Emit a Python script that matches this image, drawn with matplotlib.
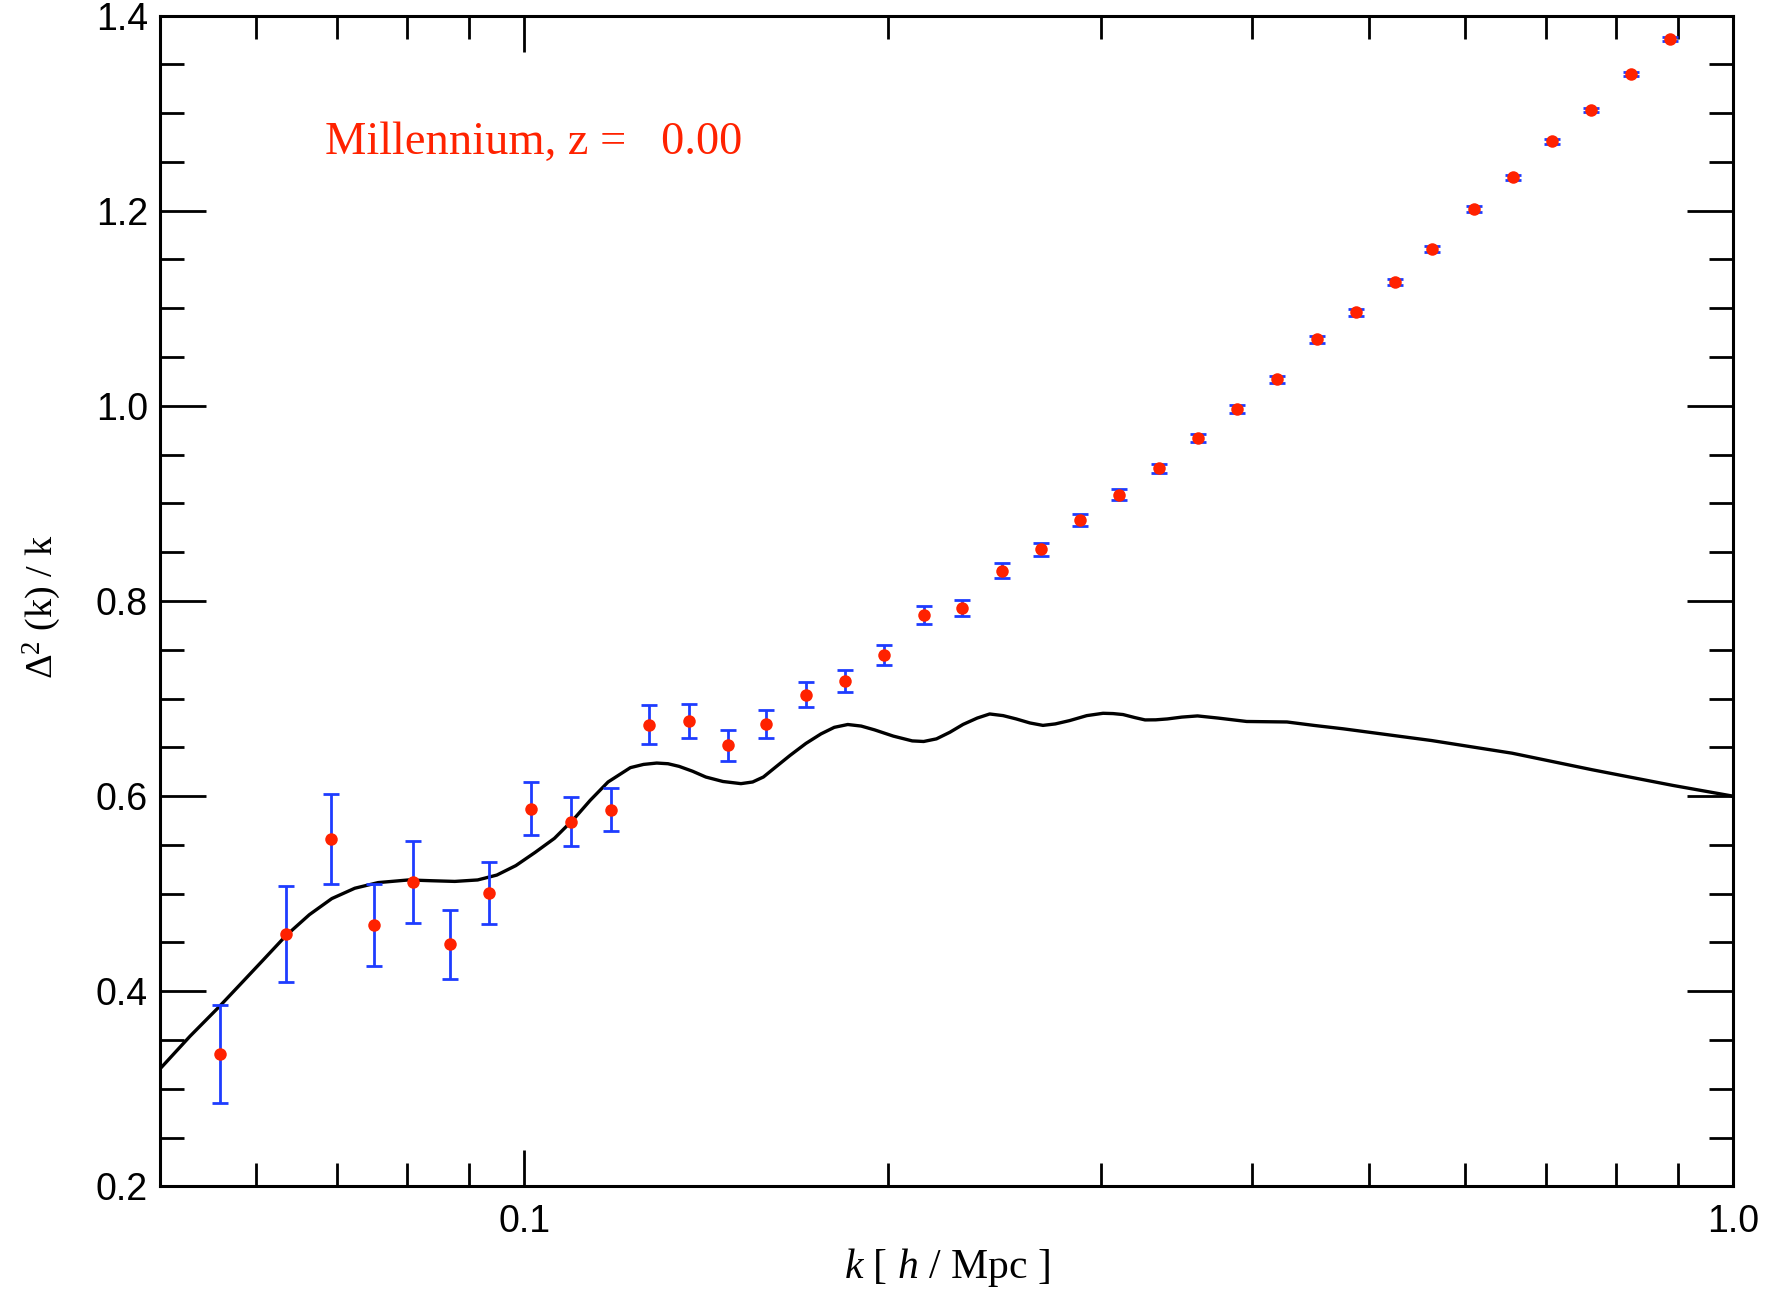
import matplotlib
matplotlib.use("Agg")
import matplotlib.pyplot as plt
from matplotlib.ticker import FixedLocator, FixedFormatter, MultipleLocator, NullFormatter

# simulation power spectrum, Delta^2(k)/k with 1-sigma errors
k_sim = [0.0560, 0.0635, 0.0692, 0.0751, 0.0809, 0.0868, 0.0935, 0.1013,
         0.1094, 0.1179, 0.1268, 0.1368, 0.1474, 0.1586, 0.1709, 0.1841,
         0.1984, 0.2140, 0.2304, 0.2485, 0.2676, 0.2884, 0.3107, 0.3350,
         0.3612, 0.3888, 0.4196, 0.4524, 0.4874, 0.5254, 0.5637, 0.6106,
         0.6580, 0.7090, 0.7636, 0.8228, 0.8867]
delta_sim = [0.336, 0.459, 0.556, 0.468, 0.512, 0.448, 0.501, 0.587,
             0.574, 0.586, 0.673, 0.677, 0.652, 0.674, 0.704, 0.718,
             0.745, 0.786, 0.793, 0.831, 0.853, 0.883, 0.909, 0.936,
             0.967, 0.997, 1.027, 1.068, 1.096, 1.127, 1.161, 1.202,
             1.234, 1.271, 1.303, 1.340, 1.376]
err_sim = [0.050, 0.049, 0.046, 0.042, 0.042, 0.035, 0.032, 0.027,
           0.025, 0.022, 0.020, 0.0175, 0.016, 0.0143, 0.013, 0.0114,
           0.0102, 0.0092, 0.008, 0.0075, 0.0068, 0.006, 0.0053, 0.0048,
           0.0045, 0.0042, 0.004, 0.0038, 0.0036, 0.0034, 0.0032, 0.003,
           0.0028, 0.0026, 0.0024, 0.0022, 0.002]

# linear theory curve
k_lin = [0.0500, 0.0529, 0.0559, 0.0582, 0.0608, 0.0635, 0.0664, 0.0693,
         0.0724, 0.0757, 0.0802, 0.0838, 0.0876, 0.0915, 0.0949, 0.0984,
         0.1021, 0.1059, 0.1100, 0.1134, 0.1173, 0.1224, 0.1255, 0.1287,
         0.1315, 0.1343, 0.1378, 0.1413, 0.1460, 0.1511, 0.1545, 0.1577,
         0.1615, 0.1659, 0.1710, 0.1760, 0.1805, 0.1852, 0.1900, 0.1949,
         0.2020, 0.2094, 0.2140, 0.2193, 0.2250, 0.2307, 0.2370, 0.2427,
         0.2490, 0.2553, 0.2620, 0.2686, 0.2750, 0.2826, 0.2920, 0.3012,
         0.3070, 0.3129, 0.3200, 0.3263, 0.3330, 0.3404, 0.3500, 0.3606,
         0.3750, 0.3960, 0.4276, 0.4500, 0.4759, 0.5630, 0.6566, 0.7650,
         0.8917, 1.0000]
delta_lin = [0.321, 0.354, 0.384, 0.407, 0.432, 0.457, 0.4785, 0.495,
             0.5056, 0.5114, 0.5141, 0.5133, 0.5126, 0.5141, 0.5191, 0.5288,
             0.5424, 0.5567, 0.5771, 0.5958, 0.6145, 0.6292, 0.6325, 0.6339,
             0.6332, 0.6305, 0.6255, 0.6196, 0.6150, 0.6128, 0.6145, 0.6196,
             0.6300, 0.6417, 0.6540, 0.6638, 0.6705, 0.6734, 0.6718, 0.6679,
             0.6615, 0.6566, 0.6560, 0.6587, 0.6655, 0.6735, 0.6800, 0.6842,
             0.6825, 0.6791, 0.6750, 0.6725, 0.6740, 0.6774, 0.6825, 0.6849,
             0.6846, 0.6836, 0.6805, 0.6781, 0.6782, 0.6791, 0.6810, 0.6822,
             0.6800, 0.6765, 0.676, 0.6725, 0.669, 0.657, 0.644, 0.627,
             0.611, 0.600]

x_ticks = [0.1, 1.0]
x_ticklabels = ["0.1", "1.0"]

plt.rcParams["font.family"] = ["Liberation Sans", "DejaVu Sans"]
plt.rcParams["mathtext.fontset"] = "custom"
plt.rcParams["mathtext.rm"] = "Liberation Serif"
plt.rcParams["mathtext.it"] = "Liberation Serif:italic"

fig = plt.figure(figsize=(17.81, 12.92), dpi=100)
ax = fig.add_axes([0.0901, 0.0817, 0.8829, 0.9063])

ax.plot(k_lin, delta_lin, color="black", lw=2.4, zorder=2,
        solid_joinstyle="round", solid_capstyle="round")
ax.errorbar(k_sim, delta_sim, yerr=err_sim, fmt="none", ecolor="#1e3cff",
            elinewidth=2.0, capsize=6.0, capthick=2.0, zorder=3)
ax.plot(k_sim, delta_sim, "o", color="#ff2200", ms=9, mec="none", zorder=4)

ax.set_xscale("log")
ax.set_xlim(0.05, 1.0)
ax.set_ylim(0.2, 1.4)

ax.xaxis.set_major_locator(FixedLocator(x_ticks))
ax.xaxis.set_major_formatter(FixedFormatter(x_ticklabels))
ax.xaxis.set_minor_locator(FixedLocator(
    [0.06, 0.07, 0.08, 0.09, 0.2, 0.3, 0.4, 0.5, 0.6, 0.7, 0.8, 0.9]))
ax.xaxis.set_minor_formatter(NullFormatter())
ax.yaxis.set_major_locator(MultipleLocator(0.2))
ax.yaxis.set_minor_locator(MultipleLocator(0.05))
ax.yaxis.set_major_formatter(lambda v, p: f"{v:.1f}")

ax.tick_params(which="both", direction="in", top=True, right=True,
               width=2.0, labelsize=27, color="black")
ax.tick_params(axis="x", which="major", length=26, pad=13)
ax.tick_params(axis="x", which="minor", length=16.5)
ax.tick_params(axis="y", which="major", length=33, pad=9)
ax.tick_params(axis="y", which="minor", length=17)
for s in ax.spines.values():
    s.set_linewidth(2.2)

ax.set_xlabel(r"$k$ [ $h$ / Mpc ]", fontsize=30, family="Liberation Serif",
              va="center")
ax.xaxis.set_label_coords(0.5, -0.0696)
ax.set_ylabel(r"$\Delta^2$ (k) / k", fontsize=27.5, family="Liberation Serif",
              va="center")
ax.yaxis.set_label_coords(-0.0757, 0.495)

ax.text(0.1046, 0.8817, "Millennium, z =   0.00", transform=ax.transAxes,
        fontsize=33.5, family="Liberation Serif", color="#ff2200",
        ha="left", va="baseline")

fig.savefig("out.png", dpi=100)
